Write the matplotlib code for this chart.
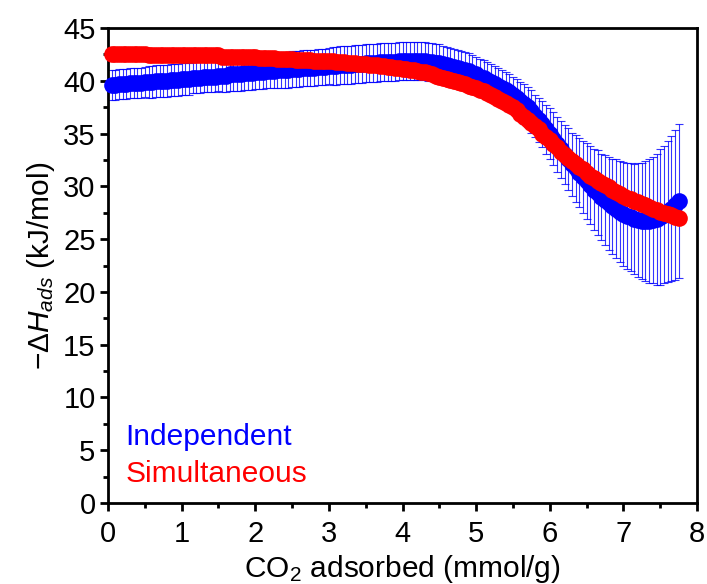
import matplotlib
matplotlib.use("Agg")
import matplotlib.pyplot as plt
from matplotlib.ticker import MultipleLocator

plt.rcParams['font.family'] = ['Liberation Sans', 'DejaVu Sans']
plt.rcParams['mathtext.fontset'] = 'custom'
plt.rcParams['mathtext.rm'] = 'Liberation Sans'
plt.rcParams['mathtext.it'] = 'Liberation Sans:italic'
plt.rcParams['mathtext.bf'] = 'Liberation Sans:bold'

x = [0.05, 0.10, 0.15, 0.20, 0.25, 0.30, 0.35, 0.40, 0.45, 0.50,
     0.55, 0.60, 0.65, 0.70, 0.75, 0.80, 0.85, 0.90, 0.95, 1.00,
     1.05, 1.10, 1.15, 1.20, 1.25, 1.30, 1.35, 1.40, 1.45, 1.50,
     1.55, 1.60, 1.65, 1.70, 1.75, 1.80, 1.85, 1.90, 1.95, 2.00,
     2.05, 2.10, 2.15, 2.20, 2.25, 2.30, 2.35, 2.40, 2.45, 2.50,
     2.55, 2.60, 2.65, 2.70, 2.75, 2.80, 2.85, 2.90, 2.95, 3.00,
     3.05, 3.10, 3.15, 3.20, 3.25, 3.30, 3.35, 3.40, 3.45, 3.50,
     3.55, 3.60, 3.65, 3.70, 3.75, 3.80, 3.85, 3.90, 3.95, 4.00,
     4.05, 4.10, 4.15, 4.20, 4.25, 4.30, 4.35, 4.40, 4.45, 4.50,
     4.55, 4.60, 4.65, 4.70, 4.75, 4.80, 4.85, 4.90, 4.95, 5.00,
     5.05, 5.10, 5.15, 5.20, 5.25, 5.30, 5.35, 5.40, 5.45, 5.50,
     5.55, 5.60, 5.65, 5.70, 5.75, 5.80, 5.85, 5.90, 5.95, 6.00,
     6.05, 6.10, 6.15, 6.20, 6.25, 6.30, 6.35, 6.40, 6.45, 6.50,
     6.55, 6.60, 6.65, 6.70, 6.75, 6.80, 6.85, 6.90, 6.95, 7.00,
     7.05, 7.10, 7.15, 7.20, 7.25, 7.30, 7.35, 7.40, 7.45, 7.50,
     7.55, 7.60, 7.65, 7.70, 7.75]

independent = [39.6, 39.6, 39.7, 39.7, 39.7, 39.8, 39.8, 39.8, 39.8, 39.9,
               39.9, 39.9, 40.0, 40.0, 40.0, 40.0, 40.1, 40.1, 40.1, 40.2,
               40.2, 40.2, 40.3, 40.3, 40.3, 40.4, 40.4, 40.4, 40.4, 40.5,
               40.5, 40.5, 40.6, 40.6, 40.6, 40.6, 40.7, 40.7, 40.7, 40.8,
               40.8, 40.8, 40.9, 40.9, 40.9, 41.0, 41.0, 41.0, 41.0, 41.1,
               41.1, 41.1, 41.2, 41.2, 41.2, 41.2, 41.3, 41.3, 41.3, 41.4,
               41.4, 41.4, 41.5, 41.5, 41.5, 41.5, 41.6, 41.6, 41.6, 41.7,
               41.7, 41.7, 41.7, 41.8, 41.8, 41.8, 41.8, 41.8, 41.9, 41.9,
               41.9, 41.9, 41.9, 41.9, 41.9, 41.9, 41.8, 41.8, 41.7, 41.7,
               41.6, 41.5, 41.4, 41.3, 41.2, 41.1, 41.0, 40.9, 40.7, 40.6,
               40.4, 40.3, 40.1, 39.9, 39.7, 39.5, 39.3, 39.1, 38.9, 38.7,
               38.4, 38.1, 37.8, 37.5, 37.1, 36.7, 36.3, 35.9, 35.4, 35.0,
               34.5, 34.0, 33.5, 33.0, 32.6, 32.1, 31.7, 31.3, 30.9, 30.5,
               30.1, 29.7, 29.4, 29.0, 28.7, 28.4, 28.1, 27.9, 27.6, 27.4,
               27.2, 27.1, 26.9, 26.8, 26.7, 26.7, 26.7, 26.8, 26.9, 27.1,
               27.3, 27.6, 27.9, 28.2, 28.6]

independent_err = [1.4, 1.4, 1.4, 1.4, 1.4, 1.4, 1.4, 1.4, 1.4, 1.4,
                   1.5, 1.5, 1.5, 1.5, 1.5, 1.5, 1.5, 1.5, 1.5, 1.5,
                   1.5, 1.5, 1.5, 1.5, 1.5, 1.5, 1.5, 1.5, 1.5, 1.5,
                   1.6, 1.6, 1.6, 1.6, 1.6, 1.6, 1.6, 1.6, 1.6, 1.6,
                   1.6, 1.6, 1.6, 1.6, 1.6, 1.7, 1.7, 1.7, 1.7, 1.7,
                   1.7, 1.7, 1.7, 1.7, 1.7, 1.7, 1.7, 1.7, 1.7, 1.7,
                   1.8, 1.8, 1.8, 1.8, 1.8, 1.8, 1.8, 1.8, 1.8, 1.8,
                   1.8, 1.8, 1.8, 1.8, 1.8, 1.8, 1.8, 1.8, 1.8, 1.8,
                   1.8, 1.8, 1.8, 1.8, 1.8, 1.8, 1.8, 1.8, 1.8, 1.8,
                   1.7, 1.7, 1.7, 1.7, 1.7, 1.7, 1.7, 1.7, 1.7, 1.7,
                   1.7, 1.7, 1.7, 1.7, 1.7, 1.7, 1.7, 1.7, 1.7, 1.7,
                   1.8, 1.8, 1.9, 1.9, 2.0, 2.0, 2.1, 2.2, 2.3, 2.4,
                   2.5, 2.6, 2.7, 2.8, 2.9, 3.0, 3.2, 3.3, 3.4, 3.6,
                   3.7, 3.8, 4.0, 4.1, 4.3, 4.4, 4.5, 4.7, 4.8, 4.9,
                   5.0, 5.1, 5.2, 5.4, 5.5, 5.7, 5.9, 6.0, 6.2, 6.4,
                   6.5, 6.7, 6.9, 7.1, 7.3]

simultaneous = [42.5, 42.5, 42.5, 42.5, 42.5, 42.5, 42.5, 42.5, 42.5, 42.5,
                42.4, 42.4, 42.4, 42.4, 42.4, 42.4, 42.4, 42.4, 42.4, 42.4,
                42.4, 42.4, 42.4, 42.4, 42.4, 42.4, 42.4, 42.4, 42.4, 42.4,
                42.3, 42.3, 42.3, 42.3, 42.3, 42.3, 42.3, 42.3, 42.3, 42.3,
                42.2, 42.2, 42.2, 42.2, 42.2, 42.1, 42.1, 42.1, 42.1, 42.1,
                42.0, 42.0, 42.0, 42.0, 42.0, 41.9, 41.9, 41.9, 41.9, 41.9,
                41.9, 41.8, 41.8, 41.8, 41.7, 41.7, 41.7, 41.6, 41.6, 41.6,
                41.5, 41.5, 41.5, 41.4, 41.4, 41.3, 41.3, 41.2, 41.2, 41.1,
                41.1, 41.0, 41.0, 40.9, 40.8, 40.8, 40.7, 40.6, 40.5, 40.4,
                40.3, 40.2, 40.1, 40.0, 39.9, 39.8, 39.7, 39.5, 39.4, 39.3,
                39.1, 39.0, 38.8, 38.7, 38.5, 38.3, 38.1, 37.9, 37.7, 37.5,
                37.2, 36.9, 36.6, 36.3, 36.0, 35.7, 35.4, 35.0, 34.7, 34.4,
                34.0, 33.7, 33.3, 33.0, 32.7, 32.4, 32.1, 31.8, 31.6, 31.3,
                31.0, 30.8, 30.5, 30.3, 30.1, 29.9, 29.7, 29.5, 29.3, 29.1,
                28.9, 28.8, 28.6, 28.5, 28.3, 28.2, 28.0, 27.9, 27.8, 27.6,
                27.5, 27.4, 27.3, 27.1, 27.0]

labels = ["Independent", "Simultaneous"]
colors = ["#0000FF", "#FF0000"]

fig = plt.figure(figsize=(7.07, 5.84), dpi=100)
ax = fig.add_axes([0.1528, 0.1387, 0.8331, 0.8133])

ax.errorbar(x, independent, yerr=independent_err, fmt='none', ecolor=colors[0],
            elinewidth=0.8, capsize=3, capthick=0.8, alpha=0.8, zorder=2)
ax.plot(x, independent, 'o', color=colors[0], markersize=12, markeredgewidth=0,
        zorder=3, clip_on=False)
ax.plot(x, simultaneous, 'o', color=colors[1], markersize=12, markeredgewidth=0,
        zorder=4, clip_on=False)

ax.set_xlim(0, 8)
ax.set_ylim(0, 45)
ax.xaxis.set_major_locator(MultipleLocator(1))
ax.xaxis.set_minor_locator(MultipleLocator(0.5))
ax.yaxis.set_major_locator(MultipleLocator(5))
ax.yaxis.set_minor_locator(MultipleLocator(2.5))

for s in ax.spines.values():
    s.set_linewidth(2.0)
ax.tick_params(which='major', direction='out', length=6, width=2.0,
               labelsize=21, top=False, right=False, pad=3)
ax.tick_params(axis='x', which='major', pad=6)
ax.tick_params(which='minor', direction='out', length=3.5, width=2.0,
               top=False, right=False)

ax.set_xlabel(r"CO$_2$ adsorbed (mmol/g)", fontsize=21.5, labelpad=4)
ax.set_ylabel(r"$-\Delta H_{ads}$ (kJ/mol)", fontsize=21.5, labelpad=4)

ax.text(0.029, 0.139, labels[0], color=colors[0], fontsize=21.5,
        transform=ax.transAxes, ha='left', va='center')
ax.text(0.029, 0.061, labels[1], color=colors[1], fontsize=21.5,
        transform=ax.transAxes, ha='left', va='center')

fig.savefig("out.png", dpi=100)
